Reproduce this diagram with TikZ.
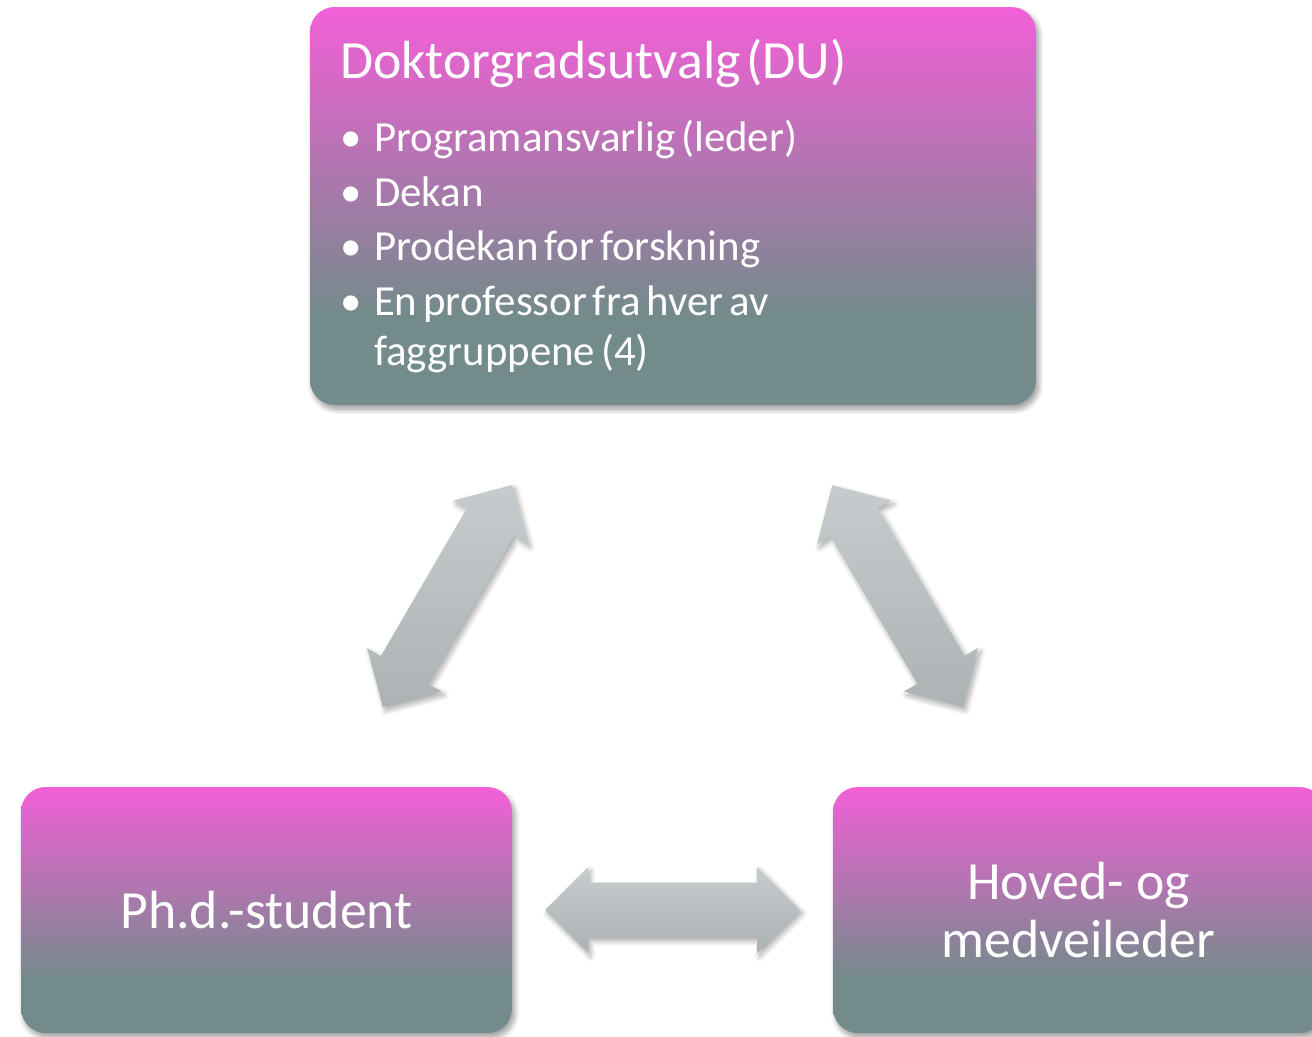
\documentclass[tikz,border=0pt]{standalone}
\usepackage{fontspec}
\setmainfont{Carlito}
\usepackage{xcolor}
\usepackage{tikz}
\usetikzlibrary{shapes.arrows,shadows.blur,calc}

\definecolor{boxpink}{HTML}{F35FD7}
\definecolor{boxteal}{HTML}{738B8B}
\definecolor{arrtop}{HTML}{C6CCCE}
\definecolor{arrbot}{HTML}{ADB3B5}

% box bottom = 25bp, box top = 75bp
\pgfdeclareverticalshading{boxfade}{100bp}{%
  color(0bp)=(boxteal); color(36bp)=(boxteal); color(75bp)=(boxpink); color(100bp)=(boxpink)}

\newcommand{\duitem}[1]{\hangindent=0.68cm\hangafter=1\noindent\makebox[0.68cm][l]{\textbullet}#1\par}

\begin{document}
\begin{tikzpicture}[x=0.02cm, y=-0.02cm,
  box/.style={rounded corners=14pt, shading=boxfade, text=white, inner sep=0pt,
              blur shadow={shadow xshift=1.5pt, shadow yshift=-2.5pt, shadow opacity=40,
                           shadow blur radius=3pt, shadow blur steps=10}},
  dblarrow/.style={double arrow, double arrow head extend=0.31cm, inner xsep=0pt, inner ysep=0.54cm,
                   minimum height=5.14cm, top color=arrtop, bottom color=arrbot,
                   blur shadow={shadow xshift=1.5pt, shadow yshift=-2pt, shadow opacity=35,
                                shadow blur radius=3pt, shadow blur steps=10}},
  bigtext/.style={font=\fontsize{30.6}{33}\selectfont}
]
  \useasboundingbox (0,0) rectangle (1312,1036);

  \node[box, minimum width=14.52cm, minimum height=7.96cm, text width=13.32cm,
        align=left] (du) at (673,206)
  {{\fontsize{30.6}{34}\selectfont Doktorgradsutvalg (DU)\par}
   \fontsize{24.4}{27.9}\selectfont\parskip=3.4pt
   \vspace{9.7pt}
   \duitem{Programansvarlig (leder)}
   \duitem{Dekan}
   \duitem{Prodekan for forskning}
   \duitem{En professor fra hver av\newline faggruppene (4)}};

  \node[box, bigtext, minimum width=9.82cm, minimum height=4.92cm] (stud) at (266.5,910) {Ph.d.-student};
  \node[box, bigtext, minimum width=9.82cm, minimum height=4.92cm, align=center] (veil) at (1078.5,910)
    {Hoved- og\\medveileder};

  \node[dblarrow, rotate=59.8] (du-stud) at (447.5,596) {};
  \node[dblarrow, rotate=120.5] (du-veil) at (897.5,596) {};
  \node[dblarrow, minimum height=5.1cm] (stud-veil) at ($(stud.east)!0.5!(veil.west)$) {};
\end{tikzpicture}
\end{document}
